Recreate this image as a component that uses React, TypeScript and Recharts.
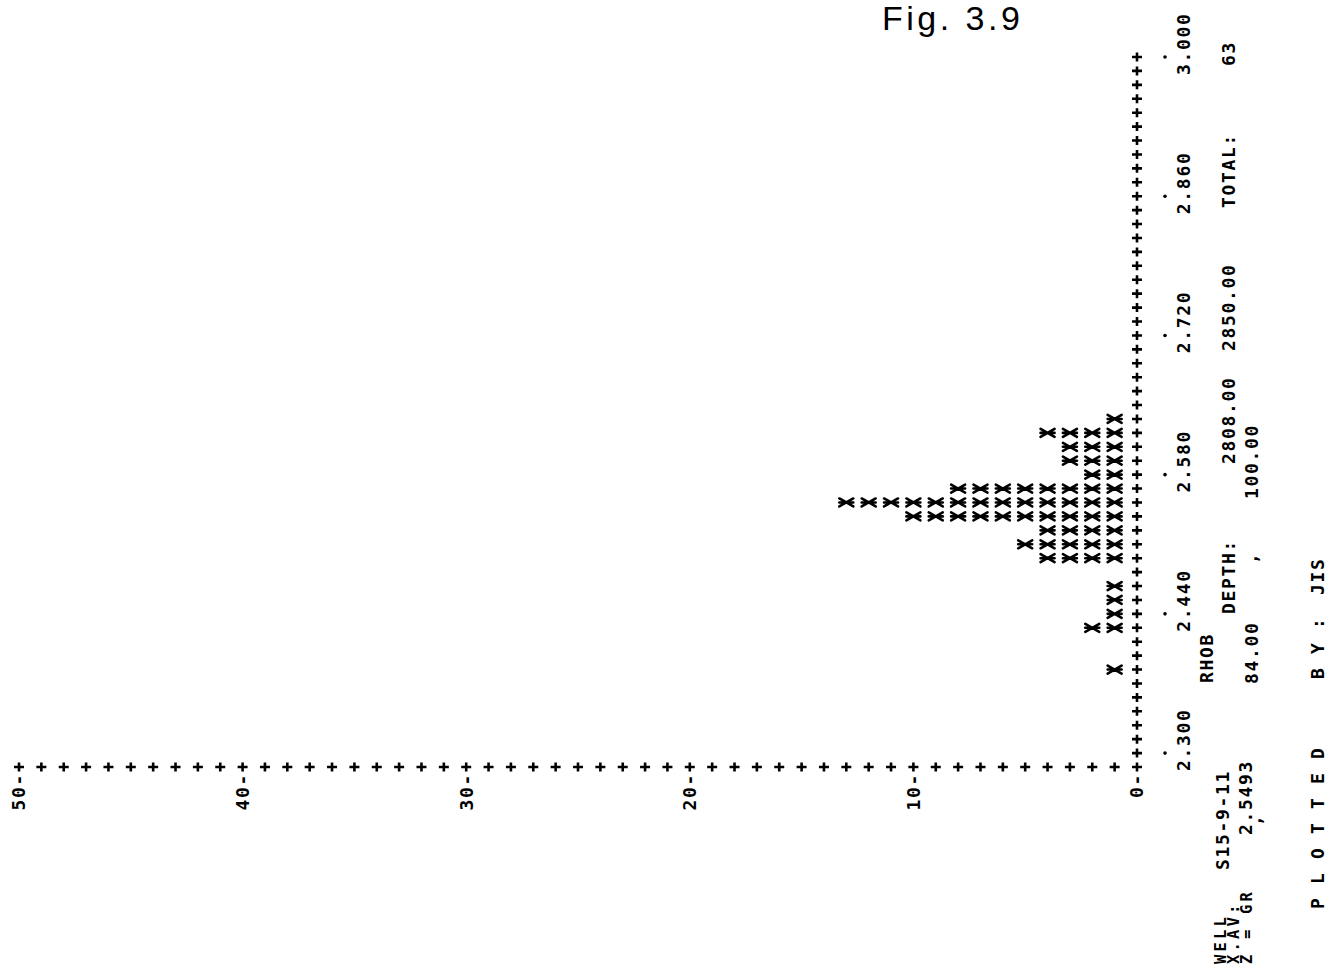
import React from "react";
import { ScatterChart, Scatter, XAxis, YAxis } from "recharts";

// RHOB histogram of well S15-9-11, line-printer output photographed sideways
const rhobBins = [2.384, 2.426, 2.44, 2.454, 2.468, 2.496, 2.51, 2.524, 2.538, 2.552, 2.566, 2.58, 2.594, 2.608, 2.622, 2.636];
const binCounts = [1, 2, 1, 1, 1, 4, 5, 4, 10, 13, 8, 2, 3, 3, 4, 1];
const rhobLabels = ["2.300", "2.440", "2.580", "2.720", "2.860", "3.000"];
const countLabels = [0, 10, 20, 30, 40, 50];

const W = 1335;
const H = 966;
const FONT = '"DejaVu Sans Mono", monospace';
const PITCH = 12.5; // character pitch of the printout along the page

// one point per printed '*': level i of bin j
const starPoints = rhobBins.flatMap((rhob, j) =>
  Array.from({ length: binCounts[j] }, (_, i) => ({ rhob, count: i + 1 }))
);

// the printer puts a '+' at every bin and every count unit
const rhobAxisTicks = Array.from({ length: 51 }, (_, k) => Number((2.3 + k * 0.014).toFixed(3)));
const countAxisTicks = Array.from({ length: 51 }, (_, k) => k);

// text that reads bottom-to-top, x is the centre of the glyph column
function VText({ x, y, anchor = "start", size = 18, children }: any) {
  const bx = x + size * 0.36;
  return (
    <text
      x={bx}
      y={y}
      transform={`rotate(-90 ${bx} ${y})`}
      textAnchor={anchor}
      fontFamily={FONT}
      fontSize={size}
      fontWeight="bold"
      letterSpacing={PITCH - size * 0.602}
      fill="#000"
    >
      {children}
    </text>
  );
}

function Plus({ cx, cy }: { cx: number; cy: number }) {
  return (
    <path
      d={`M${cx - 5},${cy} L${cx + 5},${cy} M${cx},${cy - 4.5} L${cx},${cy + 4.5}`}
      stroke="#000"
      strokeWidth={2.6}
    />
  );
}

function StarShape(props: any) {
  const { cx, cy } = props;
  return (
    <path
      d={`M${cx - 7},${cy - 4} L${cx + 7},${cy + 4} M${cx - 7},${cy + 4} L${cx + 7},${cy - 4} M${cx - 7},${cy} L${cx + 7},${cy}`}
      stroke="#000"
      strokeWidth={2.6}
      strokeLinecap="round"
    />
  );
}

function RhobTick({ x, y, payload }: any) {
  const label = rhobLabels.find((l) => Number(l) === payload.value);
  return (
    <g>
      <Plus cx={x} cy={y} />
      {label && (
        <>
          <circle cx={x + 28} cy={y} r={1.8} fill="#000" />
          <VText x={x + 47} y={y + PITCH + 5.4}>
            {label}
          </VText>
        </>
      )}
    </g>
  );
}

function CountTick({ x, y, payload }: any) {
  const v = payload.value;
  return (
    <g>
      <Plus cx={x} cy={y} />
      {countLabels.includes(v) && (
        <VText x={x} y={y + 6} anchor="end">
          {`${v}-`}
        </VText>
      )}
    </g>
  );
}

// header / footer lines of the printout
const notes = [
  { t: "RHOB", x: 1207, y: 683 },
  { t: "DEPTH:", x: 1229, y: 614 },
  { t: "2808.00", x: 1229, y: 464 },
  { t: "2850.00", x: 1229, y: 351 },
  { t: "TOTAL:", x: 1229, y: 208 },
  { t: "63", x: 1229, y: 66 },
  { t: "S15-9-11", x: 1223, y: 870 },
  { t: "2.5493", x: 1246, y: 835 },
  { t: ",", x: 1256, y: 826 },
  { t: "84.00", x: 1252, y: 684 },
  { t: ",", x: 1252, y: 564 },
  { t: "100.00", x: 1252, y: 499 },
  { t: "P L O T T E D", x: 1318, y: 909 },
  { t: "B Y :", x: 1318, y: 679 },
  { t: "JIS", x: 1318, y: 595 },
];
// the three squeezed label lines in the corner
const cornerNotes = [
  { t: "WELL", x: 1220, y: 964 },
  { t: "X.AV:", x: 1233, y: 964 },
  { t: "Z = GR", x: 1246, y: 964 },
];

export default function App() {
  return (
    <div style={{ position: "absolute", left: 0, top: 0, width: W, height: H, background: "#fff" }}>
      <ScatterChart width={W} height={H} margin={{ top: 57, right: 138, bottom: 169, left: 19 }}>
        <XAxis
          type="number"
          dataKey="count"
          domain={[0, 50]}
          reversed
          ticks={countAxisTicks}
          interval={0}
          tick={<CountTick />}
          tickLine={false}
          axisLine={false}
          tickSize={0}
          tickMargin={0}
          height={30}
        />
        <YAxis
          type="number"
          dataKey="rhob"
          orientation="right"
          domain={[2.286, 3.0]}
          ticks={rhobAxisTicks}
          interval={0}
          tick={<RhobTick />}
          tickLine={false}
          axisLine={false}
          tickSize={0}
          tickMargin={0}
          width={60}
        />
        <Scatter data={starPoints} shape={StarShape} isAnimationActive={false} />
      </ScatterChart>
      <svg
        width={W}
        height={H}
        style={{ position: "absolute", left: 0, top: 0, pointerEvents: "none" }}
      >
        {notes.map((n, i) => (
          <VText key={i} x={n.x} y={n.y}>
            {n.t}
          </VText>
        ))}
        {cornerNotes.map((n, i) => (
          <VText key={"c" + i} x={n.x} y={n.y} size={15.5}>
            {n.t}
          </VText>
        ))}
        <text x={882} y={30} fontFamily='"Liberation Sans", sans-serif' fontSize={34} letterSpacing={3.5} fill="#000">
          Fig. 3.9
        </text>
      </svg>
    </div>
  );
}
